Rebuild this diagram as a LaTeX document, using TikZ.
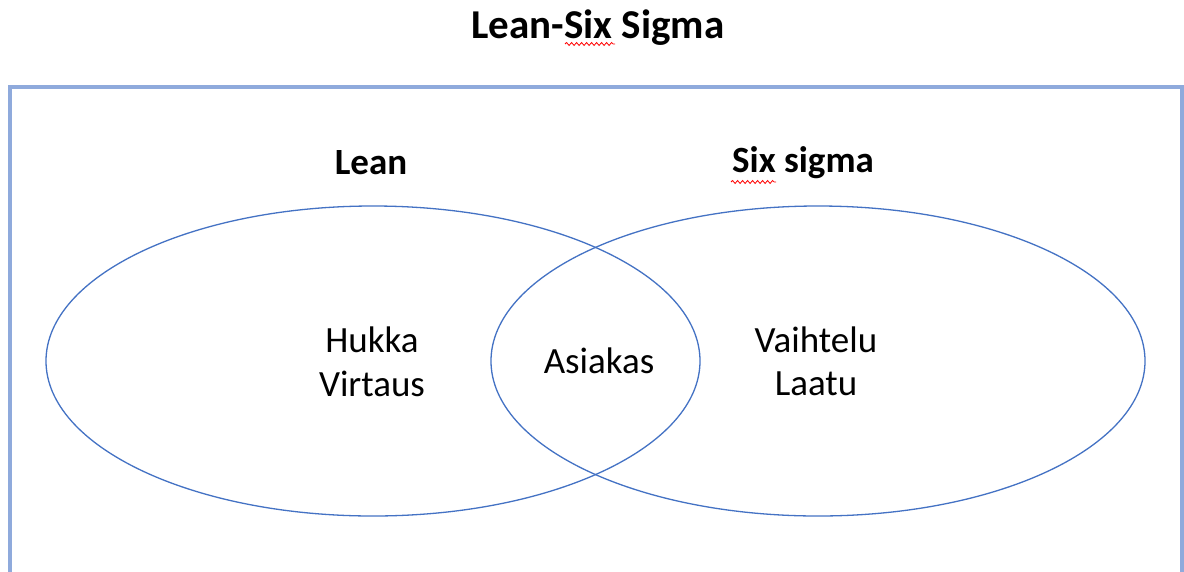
\documentclass[tikz,border=0pt]{standalone}
\usepackage{fontspec}
\setmainfont{Carlito}
\usetikzlibrary{decorations.pathmorphing}
\definecolor{ellblue}{HTML}{4472C4}
\definecolor{frameblue}{HTML}{8FAADC}
\begin{document}
\begin{tikzpicture}[x=1pt,y=-1pt,
  venn/.style={draw=ellblue,line width=1.3pt},
  lbl/.style={font=\fontsize{37}{44}\selectfont,text=black,inner sep=0pt,align=center},
  head/.style={font=\fontsize{37}{44}\selectfont\bfseries,text=black,inner sep=0pt},
  squig/.style={draw=red,line width=0.8pt,decorate,decoration={snake,amplitude=1.5pt,segment length=5pt}}]
\useasboundingbox (0,0) rectangle (1184,571);
\fill[white] (0,0) rectangle (1184,571);
% frame
\draw[frameblue,line width=3.4pt] (10,87) -- (1182,87);
\draw[frameblue,line width=3.4pt] (10,85.3) -- (10,575);
\draw[frameblue,line width=3.4pt] (1182,85.3) -- (1182,575);
% title
\node[font=\fontsize{41}{48}\selectfont\bfseries,inner sep=0pt] (title) at (598,28) {Lean-Six Sigma};
\coordinate (t1) at (565,44);
\coordinate (t2) at (615,44);
\draw[squig] (t1) -- (t2);
% ellipses
\draw[venn] (373,361) ellipse [x radius=327pt, y radius=155pt];
\draw[venn] (818,361) ellipse [x radius=327pt, y radius=155pt];
% headings
\node[head] (lean) at (371,163) {Lean};
\node[head] (six) at (803,163) {Six sigma};
\coordinate (s1) at (731,182);
\coordinate (s2) at (776,182);
\draw[squig] (s1) -- (s2);
% texts
\node[lbl] (hukka) at (372,340) {Hukka};
\node[lbl] (virtaus) at (372,384) {Virtaus};
\node[lbl] (vaihtelu) at (816,340) {Vaihtelu};
\node[lbl] (laatu) at (816,384) {Laatu};
\node[lbl] (asiakas) at (599,361) {Asiakas};
\end{tikzpicture}
\end{document}
